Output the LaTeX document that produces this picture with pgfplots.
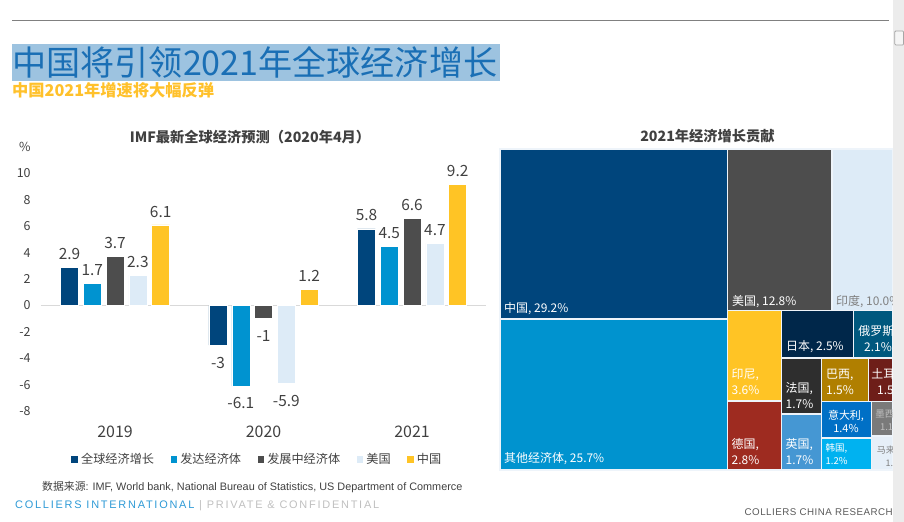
\documentclass[border=0pt]{standalone}
\usepackage{pgfplots}
\pgfplotsset{compat=1.18}
\usepackage{fontspec}
\setmainfont{Noto Sans CJK SC}
\newfontfamily\arialf{Liberation Sans}
\newfontfamily\spacedf[LetterSpace=16]{Liberation Sans}
\newfontfamily\spacedg[LetterSpace=5]{Liberation Sans}

\definecolor{cGlobal}{HTML}{00457C}
\definecolor{cAdv}{HTML}{0093D0}
\definecolor{cDev}{HTML}{4D4D4D}
\definecolor{cUS}{HTML}{DDEBF7}
\definecolor{cCN}{HTML}{FFC425}
\definecolor{lbl}{HTML}{404040}
\definecolor{zline}{HTML}{D9D9D9}
\definecolor{hl}{HTML}{9DC3E0}
\definecolor{ttl}{HTML}{1A6FB5}
\definecolor{subt}{HTML}{FFC12B}
\definecolor{collblue}{HTML}{2E9AD6}
\definecolor{cfgray}{HTML}{BFBFBF}
\definecolor{rgray}{HTML}{595959}
\definecolor{sbar}{HTML}{ECECEC}
\definecolor{tsep}{HTML}{EEF4FA}
% treemap colours
\definecolor{tChina}{HTML}{00457C}
\definecolor{tOther}{HTML}{0093CF}
\definecolor{tUS}{HTML}{4D4D4D}
\definecolor{tIndia}{HTML}{DDEBF7}
\definecolor{tIndo}{HTML}{FFC425}
\definecolor{tGer}{HTML}{9E2B20}
\definecolor{tJap}{HTML}{00274A}
\definecolor{tRus}{HTML}{00587E}
\definecolor{tFra}{HTML}{2E2E2E}
\definecolor{tUK}{HTML}{4597D3}
\definecolor{tBra}{HTML}{B07F00}
\definecolor{tTur}{HTML}{6E1E19}
\definecolor{tIta}{HTML}{0070C6}
\definecolor{tKor}{HTML}{00B2F0}
\definecolor{tMex}{HTML}{7A7A7A}
\definecolor{tMal}{HTML}{E6EFF8}

\begin{document}
\begin{tikzpicture}[x=1bp,y=1bp]
\path (0,0) rectangle (904,522);

% header
\draw[color=gray, line width=1.1bp] (12,501.7) -- (889,501.7);
\fill[hl] (12,441) rectangle (500,478);
\node[anchor=west, inner sep=0pt, text=ttl, font=\fontsize{34.2}{34.2}\selectfont] at (12.5,459.5) {中国将引领2021年全球经济增长};
\node[anchor=west, inner sep=0pt, text=subt, font=\bfseries\fontsize{16.3}{16.3}\selectfont] at (12,431.5) {中国2021年增速将大幅反弹};

% chart titles
\node[inner sep=0pt, text=lbl, font=\bfseries\fontsize{14.3}{14.3}\selectfont] at (250,385) {IMF最新全球经济预测（2020年4月）};
\node[inner sep=0pt, text=lbl, font=\bfseries\fontsize{14.3}{14.3}\selectfont] at (707.5,386) {2021年经济增长贡献};

% bar chart
\begin{axis}[
  at={(27.5,78)}, anchor=south west,
  x=148.5bp, y=13.2bp,
  xmin=-0.5, xmax=2.5, ymin=-8.6, ymax=10.8,
  ybar=4.8bp, bar width=18bp,
  axis line style={draw=none},
  major tick length=0pt,
  xtick={0,1,2}, xticklabels={2019,2020,2021},
  ytick={-8,-6,-4,-2,0,2,4,6,8,10},
  /pgf/number format/assume math mode=true,
  yticklabel style={font=\fontsize{12.5}{12.5}\selectfont, text=lbl, anchor=east, inner sep=0pt, xshift=-10bp},
  xticklabel style={font=\fontsize{16}{16}\selectfont, text=lbl, yshift=-3bp},
  extra y ticks={0}, extra y tick labels={},
  extra y tick style={grid=major, major grid style={draw=zline, line width=1.3bp}},
  clip=false,
  nodes near coords,
  every node near coord/.append style={font=\fontsize{15.5}{15.5}\selectfont, text=lbl, inner xsep=0pt, inner ysep=9.5bp, yshift=-2bp},
  legend columns=5,
  legend style={at={(0.4826,-0.158)}, anchor=center, draw=none, fill=none,
    font=\fontsize{12.2}{12.2}\selectfont, text=lbl, inner sep=0pt,
    nodes={inner sep=0pt},
    /tikz/every odd column/.append style={column sep=2.7bp},
    /tikz/every even column/.append style={column sep=15.5bp}},
  legend image code/.code={\fill[#1] (0bp,-3.75bp) rectangle (7.5bp,3.75bp);},
]
\addplot[fill=cGlobal, draw=white, line width=0.5bp] coordinates {(0,2.9) (1,-3) (2,5.8)};
\addplot[fill=cAdv, draw=white, line width=0.5bp] coordinates {(0,1.7) (1,-6.1) (2,4.5)};
\addplot[fill=cDev, draw=white, line width=0.5bp] coordinates {(0,3.7) (1,-1) (2,6.6)};
\addplot[fill=cUS, draw=white, line width=0.5bp] coordinates {(0,2.3) (1,-5.9) (2,4.7)};
\addplot[fill=cCN, draw=white, line width=0.5bp] coordinates {(0,6.1) (1,1.2) (2,9.2)};
\legend{全球经济增长, 发达经济体, 发展中经济体, 美国, 中国}
\node[anchor=east, inner sep=0pt, text=lbl, font=\fontsize{12.5}{12.5}\selectfont, xshift=-10bp] at (axis cs:-0.5,12) {\%};
\end{axis}

% treemap (page coordinates in px, y measured upwards from the bottom edge)
\begin{axis}[
  at={(500,373)}, anchor=north west,
  x=1bp, y=1bp,
  xmin=500, xmax=893, ymin=52, ymax=373,
  hide axis, clip=false,
  every axis plot/.append style={draw=tsep, line width=1.2bp},
]
\addplot[fill=tChina] coordinates {(500,373) (727.5,373) (727.5,203) (500,203)} --cycle;
\addplot[fill=tOther] coordinates {(500,203) (727.5,203) (727.5,52) (500,52)} --cycle;
\addplot[fill=tUS] coordinates {(727.5,373) (832,373) (832,211.5) (727.5,211.5)} --cycle;
\addplot[fill=tIndia] coordinates {(832,373) (893,373) (893,211.5) (832,211.5)} --cycle;
\addplot[fill=tIndo] coordinates {(727.5,211.5) (781.5,211.5) (781.5,121) (727.5,121)} --cycle;
\addplot[fill=tGer] coordinates {(727.5,121) (781.5,121) (781.5,52) (727.5,52)} --cycle;
\addplot[fill=tJap] coordinates {(781.5,211.5) (853.5,211.5) (853.5,164) (781.5,164)} --cycle;
\addplot[fill=tRus] coordinates {(853.5,211.5) (893,211.5) (893,164) (853.5,164)} --cycle;
\addplot[fill=tFra] coordinates {(781.5,164) (821.5,164) (821.5,108) (781.5,108)} --cycle;
\addplot[fill=tUK] coordinates {(781.5,108) (821.5,108) (821.5,52) (781.5,52)} --cycle;
\addplot[fill=tBra] coordinates {(821.5,164) (868.5,164) (868.5,120.5) (821.5,120.5)} --cycle;
\addplot[fill=tTur] coordinates {(868.5,164) (893,164) (893,120.5) (868.5,120.5)} --cycle;
\addplot[fill=tIta] coordinates {(821.5,120.5) (871.5,120.5) (871.5,84) (821.5,84)} --cycle;
\addplot[fill=tKor] coordinates {(821.5,84) (871.5,84) (871.5,52) (821.5,52)} --cycle;
\addplot[fill=tMex] coordinates {(871.5,120.5) (893,120.5) (893,86) (871.5,86)} --cycle;
\addplot[fill=tMal] coordinates {(871.5,86) (893,86) (893,52) (871.5,52)} --cycle;

\begin{scope}[every node/.style={inner sep=0pt, text=white, font=\fontsize{12}{16}\selectfont}]
\node[anchor=west] at (axis cs:504,213) {中国, 29.2\%};
\node[anchor=west] at (axis cs:504,63) {其他经济体, 25.7\%};
\node[anchor=west] at (axis cs:732,220.5) {美国, 12.8\%};
\node[anchor=west, text=gray, overlay] at (axis cs:836,220.5) {印度, 10.0\%};
\node[anchor=west, align=left] at (axis cs:731.5,140) {印尼,\\3.6\%};
\node[anchor=west, align=left] at (axis cs:731.5,70.5) {德国,\\2.8\%};
\node[anchor=west] at (axis cs:786,175.5) {日本, 2.5\%};
\node[align=center, overlay] at (axis cs:878,183.3) {俄罗斯,\\2.1\%};
\node[anchor=west, align=left] at (axis cs:785.5,126.7) {法国,\\1.7\%};
\node[anchor=west, align=left] at (axis cs:785.5,70.5) {英国,\\1.7\%};
\node[anchor=west, align=left] at (axis cs:826,140) {巴西,\\1.5\%};
\node[align=center, overlay] at (axis cs:891,140) {土耳其,\\1.5\%};
\node[align=center, font=\fontsize{11}{12.7}\selectfont] at (axis cs:846,100.7) {意大利,\\1.4\%};
\node[anchor=west, align=left, font=\fontsize{9.5}{13}\selectfont] at (axis cs:825.5,67.7) {韩国,\\1.2\%};
\node[align=center, text=lightgray, overlay, font=\fontsize{9.5}{13}\selectfont] at (axis cs:891,101.3) {墨西哥,\\1.1\%};
\node[align=center, text=gray, overlay, font=\fontsize{9}{12.7}\selectfont] at (axis cs:896,65.7) {马来西亚,\\1.1\%};
\end{scope}
\end{axis}

% source and footer
\node[anchor=west, inner sep=0pt, text=lbl, font=\fontsize{10.9}{10.9}\selectfont] at (42,35) {数据来源{\arialf: IMF, World bank, National Bureau of Statistics, US Department of Commerce}};
\node[anchor=west, inner sep=0pt, font=\fontsize{11}{11}\selectfont] at (15,16) {\spacedf\textcolor{collblue}{COLLIERS INTERNATIONAL} \textcolor{cfgray}{| PRIVATE \& CONFIDENTIAL}};
\node[anchor=east, inner sep=0pt, text=rgray, font=\fontsize{9.8}{9.8}\selectfont] at (893,10) {\spacedg COLLIERS CHINA RESEARCH};

% scrollbar strip
\fill[sbar] (893,0) rectangle (904,522);
\draw[fill=white!96!black, draw=gray!70, line width=0.8bp, rounded corners=1bp] (894.8,477) rectangle (903.6,491);
\end{tikzpicture}
\end{document}
